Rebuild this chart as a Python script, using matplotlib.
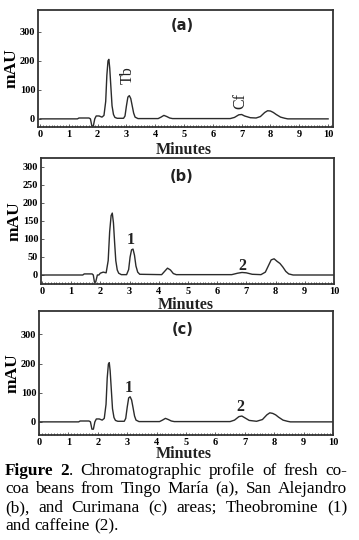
import numpy as np
import matplotlib
matplotlib.use("Agg")
import matplotlib.pyplot as plt
from matplotlib.ticker import MultipleLocator

# chromatogram traces (time in min, signal in mAU)
t_a = [0, 1.3, 1.35, 1.7, 1.75, 1.8, 1.85, 1.9, 1.95, 2.05, 2.15, 2.22, 2.28, 2.32, 2.36, 2.39,
       2.42, 2.46, 2.5, 2.55, 2.6, 2.68, 2.9, 2.95, 3.0, 3.05, 3.1, 3.15, 3.2, 3.25, 3.3, 3.4,
       4.1, 4.2, 4.3, 4.4, 4.5, 4.6, 6.6, 6.75, 6.9, 7.0, 7.1, 7.3, 7.5, 7.65, 7.8, 7.9, 8.0,
       8.1, 8.2, 8.35, 8.5, 8.6, 10]
mau_a = [0, 0, 3, 3, 0, -25, -25, 0, 10, 10, 6, 12, 60, 150, 200, 205, 175, 110, 45, 15, 5, 2,
         2, 10, 45, 75, 80, 70, 45, 20, 6, 1, 1, 6, 12, 8, 3, 1, 1, 5, 14, 15, 10, 4, 3, 8, 22,
         28, 27, 22, 15, 6, 2, 0, 0]

t_b = [0, 1.4, 1.45, 1.72, 1.76, 1.8, 1.84, 1.9, 1.95, 2.0, 2.1, 2.2, 2.27, 2.32, 2.37, 2.41,
       2.45, 2.49, 2.53, 2.58, 2.63, 2.72, 2.9, 2.97, 3.02, 3.07, 3.12, 3.17, 3.22, 3.28, 3.35,
       4.1, 4.2, 4.3, 4.4, 4.5, 4.6, 6.5, 6.7, 6.85, 7.0, 7.2, 7.5, 7.65, 7.75, 7.85, 7.95,
       8.05, 8.15, 8.25, 8.35, 8.45, 8.6, 10]
mau_b = [0, 0, 3, 3, 0, -20, -20, 0, 0, 5, 8, 6, 40, 120, 165, 172, 145, 90, 40, 14, 5, 1, 1,
         15, 50, 70, 72, 55, 25, 8, 2, 1, 10, 19, 14, 4, 1, 1, 5, 7, 6, 2, 1, 8, 25, 42, 45, 38,
         32, 22, 10, 3, 0, 0]

t_c = [0, 1.35, 1.4, 1.7, 1.75, 1.8, 1.85, 1.9, 1.95, 2.05, 2.15, 2.22, 2.28, 2.32, 2.36, 2.39,
       2.42, 2.46, 2.5, 2.55, 2.6, 2.68, 2.9, 2.95, 3.0, 3.05, 3.1, 3.15, 3.2, 3.25, 3.3, 3.4,
       4.1, 4.2, 4.3, 4.4, 4.5, 4.6, 6.5, 6.65, 6.8, 6.9, 7.0, 7.15, 7.4, 7.6, 7.75, 7.85, 7.95,
       8.05, 8.15, 8.3, 8.45, 8.55, 10]
mau_c = [0, 0, 3, 3, 0, -25, -25, 0, 10, 10, 6, 12, 60, 150, 198, 203, 175, 110, 45, 15, 5, 2,
         2, 12, 50, 82, 86, 75, 48, 20, 6, 1, 1, 6, 12, 8, 3, 1, 1, 6, 18, 20, 14, 5, 2, 8, 24,
         31, 29, 24, 16, 6, 2, 0, 0]

panels = [
    dict(t=t_a, y=mau_a, tag="(a)", pos=[38, 10, 333, 127], xlim=(-0.07, 10.17), ylim=(-28, 375),
         ystep=100, labels=[("Tb", 3.05, 150, 90, "normal"), ("Cf", 6.95, 62, 90, "normal")],
         mx=182, my=25, minutes_y=150),
    dict(t=t_b, y=mau_b, tag="(b)", pos=[41, 158, 334, 284], xlim=(-0.03, 10.0), ylim=(-25, 325),
         ystep=50, labels=[("1", 3.05, 97, 0, "bold"), ("2", 6.85, 25, 0, "bold")],
         mx=182, my=177, minutes_y=305),
    dict(t=t_c, y=mau_c, tag="(c)", pos=[39, 311, 333, 435], xlim=(0.0, 10.0), ylim=(-45, 380),
         ystep=100, labels=[("1", 3.05, 117, 0, "bold"), ("2", 6.85, 50, 0, "bold")],
         mx=183, my=330, minutes_y=454),
]

W, H = 359, 540
fig = plt.figure(figsize=(W / 100, H / 100), dpi=100)
serif = "Liberation Serif"

for p in panels:
    x0, y0, x1, y1 = p["pos"]
    ax = fig.add_axes([x0 / W, 1 - y1 / H, (x1 - x0) / W, (y1 - y0) / H])
    ax.plot(p["t"], p["y"], color="#2b2b2b", lw=1.0)
    ax.set_xlim(*p["xlim"])
    ax.set_ylim(*p["ylim"])
    ax.xaxis.set_major_locator(MultipleLocator(1))
    ax.xaxis.set_minor_locator(MultipleLocator(0.1))
    ax.yaxis.set_major_locator(MultipleLocator(p["ystep"]))
    ax.set_yticks([v for v in ax.get_yticks() if 0 <= v <= 300])
    ax.tick_params(which="both", direction="in", color="#444", width=0.6)
    ax.tick_params(which="major", length=2.5, pad=2)
    ax.tick_params(which="minor", length=1.5)
    for lab in ax.get_xticklabels() + ax.get_yticklabels():
        lab.set_fontfamily(serif)
        lab.set_fontweight("bold")
        lab.set_fontsize(7.5)
    for s in ax.spines.values():
        s.set_color("#333333")
        s.set_linewidth(1.3)
    fig.text(p["mx"] / W, 1 - p["my"] / H, p["tag"], ha="center", va="center",
             fontsize=10.5, fontweight="bold", family="DejaVu Sans", color="#222")
    for txt, tx, ty, rot, wt in p["labels"]:
        ax.text(tx, ty, txt, ha="center", va="center", rotation=rot, fontsize=11.5,
                fontweight=wt, family=serif, color="#222")
    ax.set_ylabel("mAU", family=serif, fontweight="bold", fontsize=12.5, labelpad=0)
    fig.text(((x0 + x1) / 2 - 2) / W, 1 - p["minutes_y"] / H, "Minutes", ha="center",
             va="center", family=serif, fontweight="bold", fontsize=11.5, color="#222")

# justified caption
caption = [
    [[("Figure", "bold")], [("2", "bold"), (".", "normal")], [("Chromatographic", "normal")],
     [("profile", "normal")], [("of", "normal")], [("fresh", "normal")], [("co-", "normal")]],
    [[(w, "normal")] for w in "coa beans from Tingo María (a), San Alejandro".split()],
    [[(w, "normal")] for w in "(b), and Curimana (c) areas; Theobromine (1)".split()],
    [[(w, "normal")] for w in "and caffeine (2).".split()],
]
cap_left, cap_right = 5, 347
line_y = [471, 489, 508, 526]
renderer = fig.canvas.get_renderer()


def width_of(s, wt, fs):
    t = fig.text(0, 0, s, fontsize=fs, family=serif, fontweight=wt)
    w = t.get_window_extent(renderer).width
    t.remove()
    return w


# pick the font size so that the widest line fills the column with plain spaces
fs = 10.0
natural = max(sum(width_of(s, wt, fs) for word in words for s, wt in word)
              + width_of(" ", "normal", fs) * (len(words) - 1) for words in caption[:3])
fs = fs * (cap_right - cap_left) / natural * 0.96

for i, words in enumerate(caption):
    widths = [[width_of(s, wt, fs) for s, wt in word] for word in words]
    total = sum(sum(w) for w in widths)
    last = i == len(caption) - 1
    gap = width_of(" ", "normal", fs) if last else (cap_right - cap_left - total) / (len(words) - 1)
    x = cap_left
    for word, ws in zip(words, widths):
        for (s, wt), w in zip(word, ws):
            fig.text(x / W, 1 - line_y[i] / H, s, fontsize=fs, family=serif, fontweight=wt,
                     va="center", ha="left", color="black")
            x += w
        x += gap

fig.savefig("out.png", dpi=100)
